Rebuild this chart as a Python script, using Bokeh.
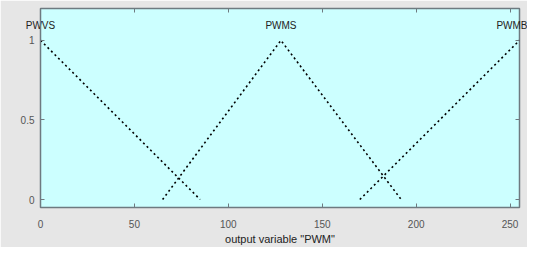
from bokeh.plotting import figure
from bokeh.models import Range1d, LinearAxis, FixedTicker, CustomJSTickFormatter
from bokeh.embed import file_html
from bokeh.resources import INLINE

mf_names = ["PWVS", "PWMS", "PWMB"]
mf_x = [[0, 0, 85], [65, 128, 192], [170, 255, 255]]
mf_y = [[1, 1, 0], [0, 1, 0], [0, 1, 1]]
mf_peak = [0, 128, 255]
x_ticks = [0, 50, 100, 150, 200, 250]
y_ticks = [0, 0.5, 1]
x_label = 'output variable "PWM"'

p = figure(width=527, height=247, output_backend="svg", toolbar_location=None,
           x_range=Range1d(0, 255), y_range=Range1d(-0.05, 1.2),
           min_border_left=40, min_border_right=8, min_border_top=8, min_border_bottom=8)
p.background_fill_color = "#ccffff"
p.border_fill_color = "#e6e6e6"
p.outline_line_color = "#6e7a80"
p.outline_line_width = 1.5
p.grid.visible = False

for xs, ys in zip(mf_x, mf_y):
    p.line(xs, ys, line_color="black", line_width=1.6, line_dash="2 3")

for ax in (p.xaxis[0], p.yaxis[0]):
    ax.major_tick_in = 4
    ax.major_tick_out = 0
    ax.minor_tick_line_color = None
    ax.axis_line_color = "#6e7a80"
    ax.major_tick_line_color = "#6e7a80"
    ax.major_label_text_color = "#555555"
    ax.major_label_text_font = "Liberation Sans"
    ax.major_label_text_font_size = "10px"

p.xaxis.ticker = FixedTicker(ticks=x_ticks)
p.yaxis.ticker = FixedTicker(ticks=y_ticks)
p.xaxis.axis_label = x_label
p.xaxis.axis_label_text_font = "Liberation Sans"
p.xaxis.axis_label_text_font_style = "normal"
p.xaxis.axis_label_text_font_size = "11px"
p.xaxis.axis_label_text_color = "#222222"
p.xaxis.axis_label_standoff = 2
p.xaxis.major_label_standoff = 12
p.yaxis.major_label_standoff = 6

top = LinearAxis(ticker=FixedTicker(ticks=x_ticks), major_tick_in=4, major_tick_out=0,
                 formatter=CustomJSTickFormatter(code="return '';"), major_label_standoff=0,
                 axis_line_color=None, minor_tick_line_color=None, major_tick_line_color="#6e7a80")
right = LinearAxis(ticker=FixedTicker(ticks=y_ticks), major_tick_in=4, major_tick_out=0,
                   formatter=CustomJSTickFormatter(code="return '';"), major_label_standoff=0,
                   axis_line_color=None, minor_tick_line_color=None, major_tick_line_color="#6e7a80")
names_axis = LinearAxis(ticker=FixedTicker(ticks=mf_peak),
                        major_label_overrides={k: n for k, n in zip(mf_peak, mf_names)},
                        major_tick_in=0, major_tick_out=0, major_tick_line_color=None,
                        minor_tick_line_color=None, axis_line_color=None,
                        major_label_standoff=-22,
                        major_label_text_font="Liberation Sans", major_label_text_font_size="10px",
                        major_label_text_color="#222222")
p.add_layout(top, "above")
p.add_layout(names_axis, "above")
p.add_layout(right, "right")

open("out.html", "w").write(file_html(p, INLINE))
